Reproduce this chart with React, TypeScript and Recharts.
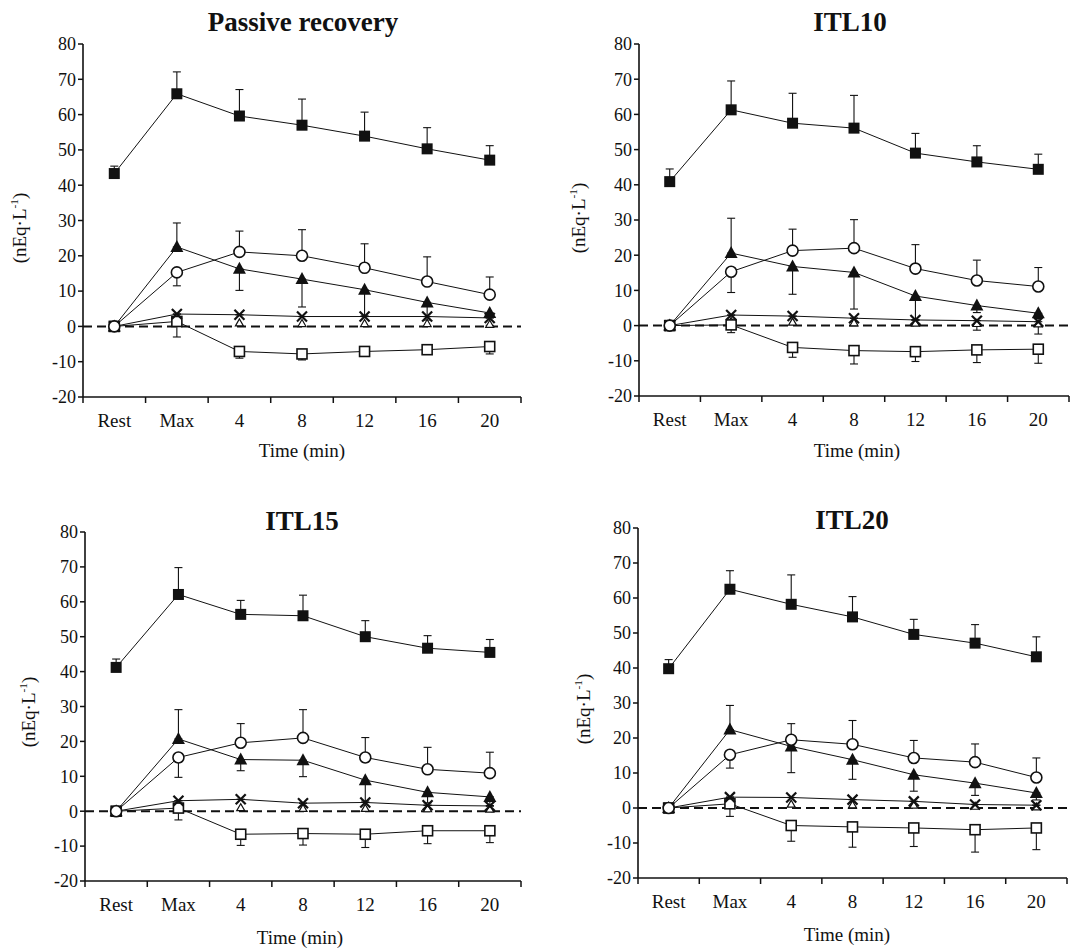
import React from "react"
import { LineChart, Line, XAxis, YAxis, ReferenceLine, ErrorBar } from "recharts"

const categories = ["Rest", "Max", "4", "8", "12", "16", "20"]
const yTicks = [-20, -10, 0, 10, 20, 30, 40, 50, 60, 70, 80]
const xTicks = [0, 0.5, 1, 1.5, 2, 2.5, 3, 3.5, 4, 4.5, 5, 5.5, 6, 6.5, 7]

// Passive recovery
const passiveFilledSq = [43.3, 65.9, 59.6, 57.0, 53.9, 50.3, 47.1]
const passiveFilledSqUp = [2.1, 6.2, 7.5, 7.4, 6.8, 6.0, 4.1]
const passiveCircle = [0, 15.3, 21.1, 20.0, 16.6, 12.7, 9.0]
const passiveCircleUp = [0, 0, 5.9, 7.4, 6.8, 7.0, 5.0]
const passiveCircleDown = [0, 3.8, 0, 0, 0, 0, 0]
const passiveTriangle = [0, 22.5, 16.3, 13.4, 10.4, 6.8, 3.8]
const passiveTriangleUp = [0, 6.8, 0, 0, 0, 0, 0]
const passiveTriangleDown = [0, 0, 6.1, 7.9, 7.4, 5.0, 3.5]
const passiveCross = [0, 3.5, 3.3, 2.8, 2.8, 2.8, 2.4]
const passiveOpenTri = [0, 1.5, 1.0, 0.8, 0.8, 0.8, 0.6]
const passiveOpenSq = [0, 1.4, -7.1, -7.8, -7.1, -6.6, -5.7]
const passiveOpenSqDown = [0, 4.4, 1.9, 1.7, 1.0, 1.2, 2.1]

// ITL10
const itl10FilledSq = [40.9, 61.3, 57.5, 56.1, 49.0, 46.5, 44.4]
const itl10FilledSqUp = [3.6, 8.2, 8.5, 9.3, 5.6, 4.6, 4.3]
const itl10Circle = [0, 15.3, 21.3, 22.0, 16.2, 12.8, 11.1]
const itl10CircleUp = [0, 0, 6.1, 8.1, 6.8, 5.8, 5.4]
const itl10CircleDown = [0, 5.9, 0, 0, 0, 0, 0]
const itl10Triangle = [0, 20.6, 16.8, 15.1, 8.4, 5.7, 3.5]
const itl10TriangleUp = [0, 9.9, 0, 0, 0, 0, 0]
const itl10TriangleDown = [0, 0, 7.9, 10.4, 6.8, 2.0, 1.5]
const itl10Cross = [0, 3.0, 2.7, 2.1, 1.6, 1.4, 1.1]
const itl10CrossDown = [0, 0, 0, 0, 0, 2.7, 3.5]
const itl10OpenTri = [0, 1.2, 1.0, 0.8, 0.7, 0.6, 0.5]
const itl10OpenSq = [0, 0.2, -6.2, -7.1, -7.4, -6.9, -6.7]
const itl10OpenSqDown = [0, 2.2, 2.8, 3.8, 2.8, 3.6, 4.0]

// ITL15
const itl15FilledSq = [41.2, 62.1, 56.4, 56.0, 50.0, 46.7, 45.5]
const itl15FilledSqUp = [2.4, 7.7, 4.0, 5.9, 4.6, 3.6, 3.7]
const itl15Circle = [0, 15.4, 19.6, 21.0, 15.4, 12.0, 10.9]
const itl15CircleUp = [0, 0, 5.5, 8.1, 5.7, 6.3, 6.0]
const itl15CircleDown = [0, 5.7, 0, 0, 0, 0, 0]
const itl15Triangle = [0, 20.7, 14.8, 14.6, 8.9, 5.4, 4.1]
const itl15TriangleUp = [0, 8.4, 0, 0, 0, 0, 0]
const itl15TriangleDown = [0, 0, 3.2, 4.7, 6.0, 3.0, 2.5]
const itl15Cross = [0, 3.0, 3.4, 2.3, 2.5, 1.7, 1.5]
const itl15OpenTri = [0, 1.2, 1.0, 0.8, 0.8, 0.7, 0.6]
const itl15OpenSq = [0, 0.9, -6.6, -6.4, -6.6, -5.6, -5.6]
const itl15OpenSqDown = [0, 3.4, 3.2, 3.3, 3.8, 3.7, 3.4]

// ITL20
const itl20FilledSq = [39.8, 62.5, 58.2, 54.6, 49.6, 47.1, 43.2]
const itl20FilledSqUp = [2.6, 5.3, 8.4, 5.8, 4.3, 5.3, 5.7]
const itl20Circle = [0, 15.2, 19.5, 18.2, 14.3, 13.1, 8.7]
const itl20CircleUp = [0, 0, 4.6, 6.8, 5.0, 5.2, 5.6]
const itl20CircleDown = [0, 3.8, 0, 0, 0, 0, 0]
const itl20Triangle = [0, 22.4, 17.6, 13.8, 9.5, 7.1, 4.3]
const itl20TriangleUp = [0, 6.9, 0, 0, 0, 0, 0]
const itl20TriangleDown = [0, 0, 7.5, 5.6, 4.7, 3.5, 2.0]
const itl20Cross = [0, 3.1, 3.0, 2.4, 1.9, 1.0, 0.8]
const itl20OpenTri = [0, 1.5, 1.1, 0.9, 0.8, 0.5, 0.3]
const itl20OpenSq = [0, 1.2, -5.0, -5.4, -5.7, -6.2, -5.7]
const itl20OpenSqDown = [0, 3.6, 4.5, 5.8, 5.3, 6.4, 6.2]

const zeros = [0, 0, 0, 0, 0, 0, 0]
const FONT = "'Liberation Serif', 'Times New Roman', serif"
const INK = "#111"

function buildRows(s: any) {
  return categories.map((c, i) => ({
    x: i + 0.5,
    fsq: s.fsq[i],
    fsqErr: [0, s.fsqUp[i]],
    circ: s.circ[i],
    circErr: [s.circDown[i], s.circUp[i]],
    tri: s.tri[i],
    triErr: [s.triDown[i], s.triUp[i]],
    cross: s.cross[i],
    crossErr: [s.crossDown[i], 0],
    otri: s.otri[i],
    osq: s.osq[i],
    osqErr: [s.osqDown[i], 0],
  }))
}

const panels = [
  {
    title: "Passive recovery",
    rows: buildRows({
      fsq: passiveFilledSq, fsqUp: passiveFilledSqUp,
      circ: passiveCircle, circUp: passiveCircleUp, circDown: passiveCircleDown,
      tri: passiveTriangle, triUp: passiveTriangleUp, triDown: passiveTriangleDown,
      cross: passiveCross, crossDown: zeros, otri: passiveOpenTri,
      osq: passiveOpenSq, osqDown: passiveOpenSqDown,
    }),
    left: 83, top: 44, bottom: 397, right: 521,
    titleX: 303, titleY: 22, ylabX: 19, ylabY: 228, xlabX: 302, xlabY: 450,
  },
  {
    title: "ITL10",
    rows: buildRows({
      fsq: itl10FilledSq, fsqUp: itl10FilledSqUp,
      circ: itl10Circle, circUp: itl10CircleUp, circDown: itl10CircleDown,
      tri: itl10Triangle, triUp: itl10TriangleUp, triDown: itl10TriangleDown,
      cross: itl10Cross, crossDown: itl10CrossDown, otri: itl10OpenTri,
      osq: itl10OpenSq, osqDown: itl10OpenSqDown,
    }),
    left: 639, top: 44, bottom: 396, right: 1069,
    titleX: 850, titleY: 22, ylabX: 578, ylabY: 218, xlabX: 857, xlabY: 450,
  },
  {
    title: "ITL15",
    rows: buildRows({
      fsq: itl15FilledSq, fsqUp: itl15FilledSqUp,
      circ: itl15Circle, circUp: itl15CircleUp, circDown: itl15CircleDown,
      tri: itl15Triangle, triUp: itl15TriangleUp, triDown: itl15TriangleDown,
      cross: itl15Cross, crossDown: zeros, otri: itl15OpenTri,
      osq: itl15OpenSq, osqDown: itl15OpenSqDown,
    }),
    left: 85, top: 532, bottom: 881, right: 521,
    titleX: 302, titleY: 521, ylabX: 28, ylabY: 712, xlabX: 300, xlabY: 937,
  },
  {
    title: "ITL20",
    rows: buildRows({
      fsq: itl20FilledSq, fsqUp: itl20FilledSqUp,
      circ: itl20Circle, circUp: itl20CircleUp, circDown: itl20CircleDown,
      tri: itl20Triangle, triUp: itl20TriangleUp, triDown: itl20TriangleDown,
      cross: itl20Cross, crossDown: zeros, otri: itl20OpenTri,
      osq: itl20OpenSq, osqDown: itl20OpenSqDown,
    }),
    left: 638, top: 528, bottom: 878, right: 1067,
    titleX: 852, titleY: 520, ylabX: 583, ylabY: 709, xlabX: 847, xlabY: 934,
  },
]

// marker shapes
const filledSquare = (p: any) => (
  <rect key={p.key} x={p.cx - 5.5} y={p.cy - 5.5} width={11} height={11} fill={INK} />
)
const openCircle = (p: any) => (
  <circle key={p.key} cx={p.cx} cy={p.cy} r={5.5} fill="#fff" stroke={INK} strokeWidth={1.6} />
)
const filledTriangle = (p: any) => (
  <polygon key={p.key} points={`${p.cx},${p.cy - 7} ${p.cx - 6.5},${p.cy + 5} ${p.cx + 6.5},${p.cy + 5}`} fill={INK} />
)
const crossMark = (p: any) => (
  <g key={p.key}>
    <line x1={p.cx - 5} y1={p.cy - 5} x2={p.cx + 5} y2={p.cy + 5} stroke={INK} strokeWidth={2.2} />
    <line x1={p.cx - 5} y1={p.cy + 5} x2={p.cx + 5} y2={p.cy - 5} stroke={INK} strokeWidth={2.2} />
  </g>
)
const openTriangle = (p: any) => (
  <polygon key={p.key} points={`${p.cx},${p.cy - 4} ${p.cx - 4},${p.cy + 3} ${p.cx + 4},${p.cy + 3}`} fill="#fff" stroke={INK} strokeWidth={1.2} />
)
const openSquare = (p: any) => (
  <rect key={p.key} x={p.cx - 5} y={p.cy - 5} width={10} height={10} fill="#fff" stroke={INK} strokeWidth={1.6} />
)

function XTick(props: any) {
  const { x, y, payload } = props
  const v = payload.value
  if (Number.isInteger(v)) {
    return <line x1={x} x2={x} y1={y} y2={y + 6} stroke={INK} strokeWidth={1.5} />
  }
  return (
    <text x={x} y={y + 30} textAnchor="middle" fontSize={19} fontFamily={FONT} fill={INK}>
      {categories[Math.floor(v)]}
    </text>
  )
}

const AXIS_W = 60
const TOP_PAD = 20
const BOTTOM_H = 60

function Panel({ p }: { p: any }) {
  const plotW = p.right - p.left
  const plotH = p.bottom - p.top
  const width = AXIS_W + plotW + 6
  const height = TOP_PAD + plotH + BOTTOM_H
  const errProps = { width: 4, strokeWidth: 1.1, stroke: INK, direction: "y" as const }
  return (
    <>
      <div
        style={{
          position: "absolute", left: p.titleX, top: p.titleY, transform: "translate(-50%, -50%)",
          fontFamily: FONT, fontWeight: "bold", fontSize: 27, lineHeight: 1, whiteSpace: "nowrap", color: INK,
        }}
      >
        {p.title}
      </div>
      <div
        style={{
          position: "absolute", left: p.ylabX, top: p.ylabY, transform: "translate(-50%, -50%) rotate(-90deg)",
          fontFamily: FONT, fontSize: 19, lineHeight: 1, whiteSpace: "nowrap", color: INK,
        }}
      >
        (nEq·L<sup style={{ fontSize: "0.6em", lineHeight: 0 }}>-1</sup>)
      </div>
      <div
        style={{
          position: "absolute", left: p.xlabX, top: p.xlabY, transform: "translate(-50%, -50%)",
          fontFamily: FONT, fontSize: 19, lineHeight: 1, whiteSpace: "nowrap", color: INK,
        }}
      >
        Time (min)
      </div>
      <div style={{ position: "absolute", left: p.left - AXIS_W, top: p.top - TOP_PAD }}>
        <LineChart width={width} height={height} data={p.rows} margin={{ top: TOP_PAD, right: 6, bottom: 0, left: 0 }}>
          <XAxis
            dataKey="x"
            type="number"
            domain={[0, 7]}
            ticks={xTicks}
            interval={0}
            tickSize={0}
            tickMargin={0}
            tickLine={false}
            axisLine={{ stroke: INK, strokeWidth: 1.6 }}
            tick={<XTick />}
            height={BOTTOM_H}
          />
          <YAxis
            type="number"
            domain={[-20, 80]}
            ticks={yTicks}
            interval={0}
            width={AXIS_W}
            tickSize={5}
            tickMargin={2}
            axisLine={{ stroke: INK, strokeWidth: 1.6 }}
            tickLine={{ stroke: INK, strokeWidth: 1.5 }}
            tick={{ fontSize: 18, fontFamily: FONT, fill: INK }}
          />
          <ReferenceLine y={0} stroke={INK} strokeWidth={2} strokeDasharray="9 5" />
          <Line dataKey="otri" stroke={INK} strokeWidth={0} dot={openTriangle} isAnimationActive={false} activeDot={false} />
          <Line dataKey="osq" stroke={INK} strokeWidth={1} dot={openSquare} isAnimationActive={false} activeDot={false}>
            <ErrorBar dataKey="osqErr" {...errProps} />
          </Line>
          <Line dataKey="cross" stroke={INK} strokeWidth={1} dot={crossMark} isAnimationActive={false} activeDot={false}>
            <ErrorBar dataKey="crossErr" {...errProps} />
          </Line>
          <Line dataKey="tri" stroke={INK} strokeWidth={1} dot={filledTriangle} isAnimationActive={false} activeDot={false}>
            <ErrorBar dataKey="triErr" {...errProps} />
          </Line>
          <Line dataKey="circ" stroke={INK} strokeWidth={1} dot={openCircle} isAnimationActive={false} activeDot={false}>
            <ErrorBar dataKey="circErr" {...errProps} />
          </Line>
          <Line dataKey="fsq" stroke={INK} strokeWidth={1} dot={filledSquare} isAnimationActive={false} activeDot={false}>
            <ErrorBar dataKey="fsqErr" {...errProps} />
          </Line>
        </LineChart>
      </div>
    </>
  )
}

export default function App() {
  return (
    <div style={{ position: "absolute", left: 0, top: 0, width: 1080, height: 948, overflow: "hidden", background: "#fff" }}>
      {panels.map((p) => (
        <Panel key={p.title} p={p} />
      ))}
    </div>
  )
}
